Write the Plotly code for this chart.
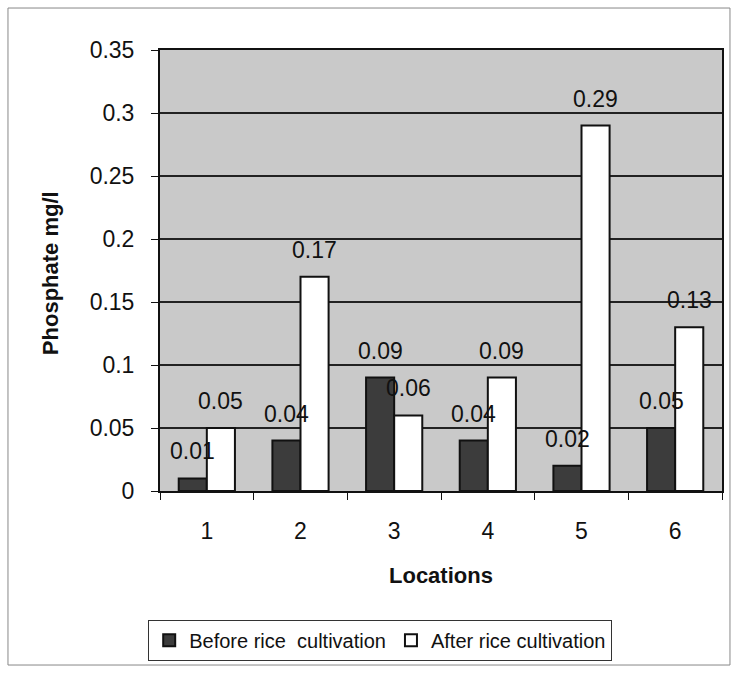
import plotly.graph_objects as go

locations = ["1", "2", "3", "4", "5", "6"]
before = [0.01, 0.04, 0.09, 0.04, 0.02, 0.05]
after = [0.05, 0.17, 0.06, 0.09, 0.29, 0.13]
y_ticks = [0, 0.05, 0.1, 0.15, 0.2, 0.25, 0.3, 0.35]
y_ticktext = ["0", "0.05", "0.1", "0.15", "0.2", "0.25", "0.3", "0.35"]

FONT = "Arial, Liberation Sans, sans-serif"

fig = go.Figure()
fig.add_trace(go.Bar(
    x=locations, y=before, name="Before rice  cultivation",
    marker=dict(color="#3c3c3c", line=dict(color="#111111", width=2)),
))
fig.add_trace(go.Bar(
    x=locations, y=after, name="After rice cultivation",
    marker=dict(color="#ffffff", line=dict(color="#111111", width=2)),
))

annotations = []
offset = 0.15
for i, (b, a) in enumerate(zip(before, after)):
    for dx, v in ((-offset, b), (offset, a)):
        annotations.append(dict(
            x=i + dx, y=v, xref="x", yref="y", text=f"{v:g}",
            showarrow=False, yshift=27, yanchor="middle", xanchor="center",
            font=dict(family=FONT, size=23, color="#111111"),
        ))

annotations.append(dict(
    x=(50 - 160) / 562, y=0.494, xref="paper", yref="paper",
    text="<b>Phosphate mg/l</b>", showarrow=False, textangle=-90,
    xanchor="center", yanchor="middle",
    font=dict(family=FONT, size=22, color="#111111"),
))
annotations.append(dict(
    x=0.5, y=(491 - 575) / 441, xref="paper", yref="paper", text="<b>Locations</b>",
    showarrow=False, xanchor="center", yanchor="middle",
    font=dict(family=FONT, size=22, color="#111111"),
))

fig.update_layout(
    width=736, height=673,
    margin=dict(l=160, r=14, t=50, b=182),
    paper_bgcolor="white",
    plot_bgcolor="#c9c9c9",
    barmode="group",
    bargap=0.4,
    bargroupgap=0,
    font=dict(family=FONT, size=22, color="#111111"),
    showlegend=True,
    legend=dict(
        orientation="h", x=-0.021, y=-0.292, xanchor="left", yanchor="top",
        bordercolor="#333333", borderwidth=1, bgcolor="white",
        font=dict(family=FONT, size=20, color="#111111"),
        itemwidth=30, traceorder="normal",
    ),
    annotations=annotations,
    shapes=[dict(
        type="rect", xref="paper", yref="paper",
        x0=-0.2705, x1=1.0142, y0=-0.3946, y1=1.0952,
        line=dict(color="#888888", width=1), fillcolor="rgba(0,0,0,0)",
        layer="below",
    )],
)
fig.update_xaxes(
    type="category", tickson="boundaries", ticks="outside", ticklen=7,
    tickcolor="#111111", tickwidth=1, showline=True, linecolor="#111111",
    linewidth=2, mirror=True, showgrid=False, ticklabelstandoff=18,
    tickfont=dict(family=FONT, size=23),
)
fig.update_yaxes(
    range=[0, 0.35], tickvals=y_ticks, ticktext=y_ticktext,
    ticks="outside", ticklen=7, tickcolor="#111111", tickwidth=1,
    showline=True, linecolor="#111111", linewidth=2, mirror=True,
    showgrid=True, gridcolor="#222222", gridwidth=1.5, zeroline=False,
    ticklabelstandoff=12, tickfont=dict(family=FONT, size=23),
)

fig.write_html("out.html")
